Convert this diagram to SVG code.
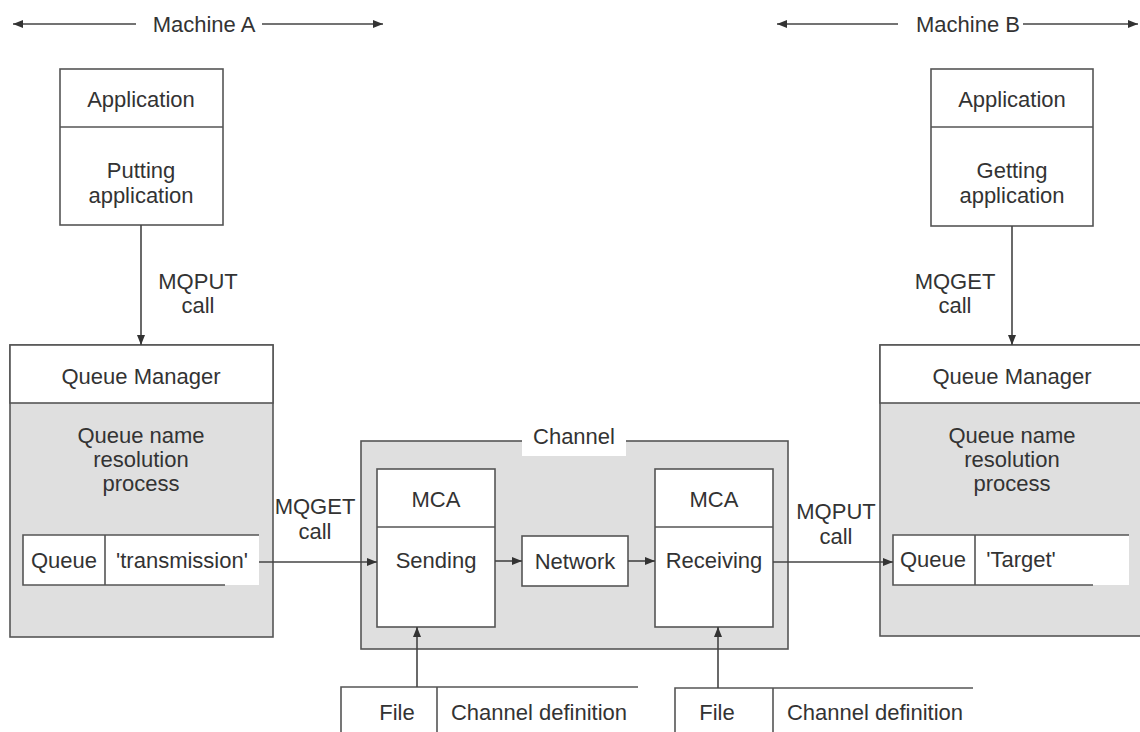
<svg xmlns="http://www.w3.org/2000/svg" width="1140" height="732" viewBox="0 0 1140 732">
<style>
text { font-family: "Liberation Sans", Arial, Helvetica, sans-serif; font-size: 22px; fill: #333; text-anchor: middle; }
.box { fill: #fff; stroke: #555; stroke-width: 1.6; }
.gray { fill: #dfdfdf; stroke: #555; stroke-width: 1.6; }
.plain { fill: #fff; stroke: none; }
.ln { fill: none; stroke: #555; stroke-width: 1.6; }
.arr { fill: none; stroke: #444; stroke-width: 1.6; marker-end: url(#ah); }
</style>
<defs>
<marker id="ah" viewBox="0 0 10 8" refX="10" refY="4" markerWidth="10" markerHeight="8" markerUnits="userSpaceOnUse" orient="auto">
<path d="M0,0 L10,4 L0,8 z" fill="#333"/>
</marker>
</defs>
<rect width="1140" height="732" fill="#fff"/>

<g id="machineA">
<line class="arr" x1="136" y1="24" x2="13" y2="24"/>
<line class="arr" x1="262" y1="24" x2="383" y2="24"/>
<text x="204" y="32">Machine A</text>
</g>

<g id="machineB">
<line class="arr" x1="898" y1="24" x2="777" y2="24"/>
<line class="arr" x1="1023" y1="24" x2="1138" y2="24"/>
<text x="968" y="32">Machine B</text>
</g>

<g id="appA">
<rect class="box" x="60" y="69" width="163" height="156"/>
<line class="ln" x1="60" y1="127" x2="223" y2="127"/>
<text x="141" y="107">Application</text>
<text x="141" y="178">Putting</text>
<text x="141" y="203">application</text>
</g>

<g id="appB">
<rect class="box" x="931" y="69" width="162" height="157"/>
<line class="ln" x1="931" y1="127" x2="1093" y2="127"/>
<text x="1012" y="107">Application</text>
<text x="1012" y="178">Getting</text>
<text x="1012" y="203">application</text>
</g>

<g id="qmA">
<rect class="gray" x="10" y="345" width="263" height="292"/>
<rect class="box" x="10" y="345" width="263" height="58"/>
<text x="141" y="384">Queue Manager</text>
<text x="141" y="443">Queue name</text>
<text x="141" y="467">resolution</text>
<text x="141" y="491">process</text>
</g>

<g id="queueA">
<rect class="plain" x="23" y="535" width="236" height="50"/>
<path class="ln" d="M259,535 H23 V585 H225 M105,535 V585"/>
<text x="64" y="568">Queue</text>
<text x="182" y="568">'transmission'</text>
</g>

<g id="qmB">
<rect class="gray" x="880" y="345" width="270" height="291"/>
<rect class="box" x="880" y="345" width="270" height="58"/>
<text x="1012" y="384">Queue Manager</text>
<text x="1012" y="443">Queue name</text>
<text x="1012" y="467">resolution</text>
<text x="1012" y="491">process</text>
</g>

<g id="queueB">
<rect class="plain" x="893" y="535" width="236" height="50"/>
<path class="ln" d="M1129,535 H893 V585 H1093 M975,535 V585"/>
<text x="933" y="567">Queue</text>
<text x="1021" y="567">'Target'</text>
</g>

<g id="channel">
<rect class="gray" x="361" y="441" width="427" height="208"/>
<rect class="plain" x="522" y="440" width="104" height="16"/>
<text x="574" y="444">Channel</text>
</g>

<g id="mcaSending">
<rect class="box" x="377" y="469" width="118" height="158"/>
<line class="ln" x1="377" y1="527" x2="495" y2="527"/>
<text x="436" y="507">MCA</text>
<text x="436" y="568">Sending</text>
</g>

<g id="network">
<rect class="box" x="522" y="536" width="106" height="50"/>
<text x="575" y="569">Network</text>
</g>

<g id="mcaReceiving">
<rect class="box" x="655" y="469" width="118" height="158"/>
<line class="ln" x1="655" y1="527" x2="773" y2="527"/>
<text x="714" y="507">MCA</text>
<text x="714" y="568">Receiving</text>
</g>

<g id="fileA">
<path class="ln" d="M341,732 V687 H638 M437,687 V732"/>
<text x="397" y="720">File</text>
<text x="539" y="720">Channel definition</text>
</g>

<g id="fileB">
<path class="ln" d="M675,732 V688 H973 M773,688 V732"/>
<text x="717" y="720">File</text>
<text x="875" y="720">Channel definition</text>
</g>

<g id="connectors">
<line class="arr" x1="141" y1="225" x2="141" y2="345"/>
<text x="198" y="289">MQPUT</text>
<text x="198" y="313">call</text>
<line class="arr" x1="1012" y1="226" x2="1012" y2="345"/>
<text x="955" y="289">MQGET</text>
<text x="955" y="313">call</text>
<line class="arr" x1="259" y1="562" x2="377" y2="562"/>
<text x="315" y="514">MQGET</text>
<text x="315" y="539">call</text>
<line class="arr" x1="495" y1="561" x2="522" y2="561"/>
<line class="arr" x1="628" y1="561" x2="655" y2="561"/>
<line class="arr" x1="773" y1="562" x2="893" y2="562"/>
<text x="836" y="519">MQPUT</text>
<text x="836" y="544">call</text>
<line class="arr" x1="417" y1="687" x2="417" y2="627"/>
<line class="arr" x1="718" y1="688" x2="718" y2="627"/>
</g>
</svg>
